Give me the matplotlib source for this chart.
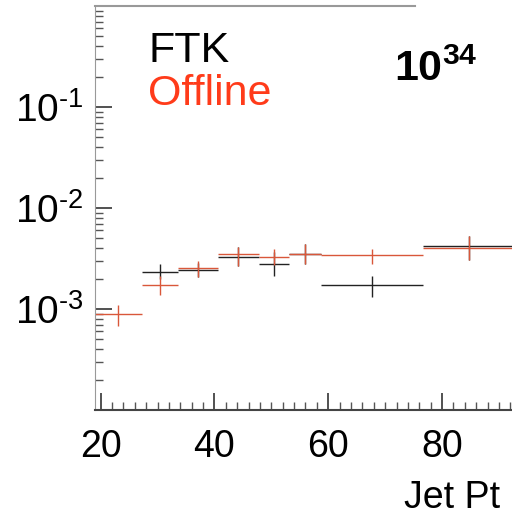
import matplotlib
matplotlib.use("Agg")
import matplotlib.pyplot as plt
import numpy as np
from matplotlib.ticker import FixedLocator, LogLocator, NullFormatter

plt.rcParams["font.family"] = ["Liberation Sans", "DejaVu Sans"]
plt.rcParams["mathtext.fontset"] = "custom"
plt.rcParams["mathtext.rm"] = "Liberation Sans"
plt.rcParams["mathtext.it"] = "Liberation Sans:italic"
plt.rcParams["mathtext.bf"] = "Liberation Sans:bold"

# variable-width Jet Pt bins
edges = [18.2, 27.3, 33.6, 40.6, 47.8, 53.1, 58.7, 76.6, 92.8]
centers = [23.0, 30.4, 37.1, 44.1, 50.5, 56.0, 67.7, 84.7]

offline = [8.9e-4, 1.72e-3, 2.54e-3, 3.48e-3, 3.25e-3, 3.48e-3, 3.40e-3, 3.99e-3]
offline_hi = [1.09e-3, 2.11e-3, 2.97e-3, 4.08e-3, 3.9e-3, 4.37e-3, 3.9e-3, 5.25e-3]
offline_lo = [6.8e-4, 1.37e-3, 2.07e-3, 2.65e-3, 2.7e-3, 2.77e-3, 2.77e-3, 3.04e-3]

ftk = [np.nan, 2.32e-3, 2.42e-3, 3.25e-3, 2.77e-3, 3.48e-3, 1.72e-3, 4.18e-3]
ftk_hi = [np.nan, 2.77e-3, 2.85e-3, 4.08e-3, 3.65e-3, 4.37e-3, 2.11e-3, 5.25e-3]
ftk_lo = [np.nan, 1.97e-3, 2.07e-3, 2.65e-3, 2.11e-3, 2.77e-3, 1.31e-3, 3.04e-3]

xticks = [20, 40, 60, 80]
yticks = [1e-3, 1e-2, 1e-1]
ylabels = [r"$10^{\text{-}3}$", r"$10^{\text{-}2}$", r"$10^{\text{-}1}$"]

fig = plt.figure(figsize=(5.12, 5.18), dpi=100)
ax = fig.add_axes([95 / 512, 108 / 518, 1 - 95 / 512, 404 / 518])

e = np.array(edges)
c = np.array(centers)
xerr = [c - e[:-1], e[1:] - c]

def draw(vals, hi, lo, color):
    v = np.array(vals)
    yerr = [v - np.array(lo), np.array(hi) - v]
    ax.errorbar(c, v, xerr=xerr, yerr=yerr, fmt="none", ecolor=color,
                elinewidth=1.0, capsize=0)

draw(ftk, ftk_hi, ftk_lo, "#222222")
draw(offline, offline_hi, offline_lo, "#d9573a")

ax.set_yscale("log")
ax.set_xlim(19.0, 92.3)
ax.set_ylim(1e-4, 1.0)

ax.xaxis.set_major_locator(FixedLocator(xticks))
ax.xaxis.set_minor_locator(FixedLocator(np.arange(20, 94, 2)))
ax.set_xticklabels([str(t) for t in xticks], fontsize=27)
ax.yaxis.set_major_locator(FixedLocator(yticks))
ax.yaxis.set_minor_locator(LogLocator(base=10, subs=np.arange(2, 10)))
ax.yaxis.set_minor_formatter(NullFormatter())
ax.set_yticklabels(ylabels, fontsize=28)

ax.tick_params(axis="both", which="major", direction="in", length=12,
               width=1.2, color="#333333")
ax.tick_params(axis="both", which="minor", direction="in", length=6,
               width=1.0, color="#555555")
ax.tick_params(axis="x", which="major", pad=14)
ax.tick_params(axis="y", which="major", pad=8)

ax.spines["right"].set_visible(False)
ax.spines["top"].set_visible(False)
ax.spines["left"].set_color("#999999")
ax.spines["bottom"].set_color("#444444")
ax.spines["bottom"].set_linewidth(1.5)
ax.axhline(1.0, xmin=0, xmax=(415 - 95) / 417, color="#999999", lw=1.5,
           clip_on=False)

fig.text(500 / 512, 1 - 508 / 518, "Jet Pt", fontsize=27, ha="right",
         va="baseline")

fig.text(148 / 512, 1 - 62 / 518, "FTK", fontsize=31, color="black")
fig.text(148 / 512, 1 - 105 / 518, "Offline", fontsize=31, color="#ff3b1a")
fig.text(394 / 512, 1 - 81 / 518, r"$\mathbf{10^{34}}$", fontsize=31,
         color="black")

fig.savefig("out.png", dpi=100)
